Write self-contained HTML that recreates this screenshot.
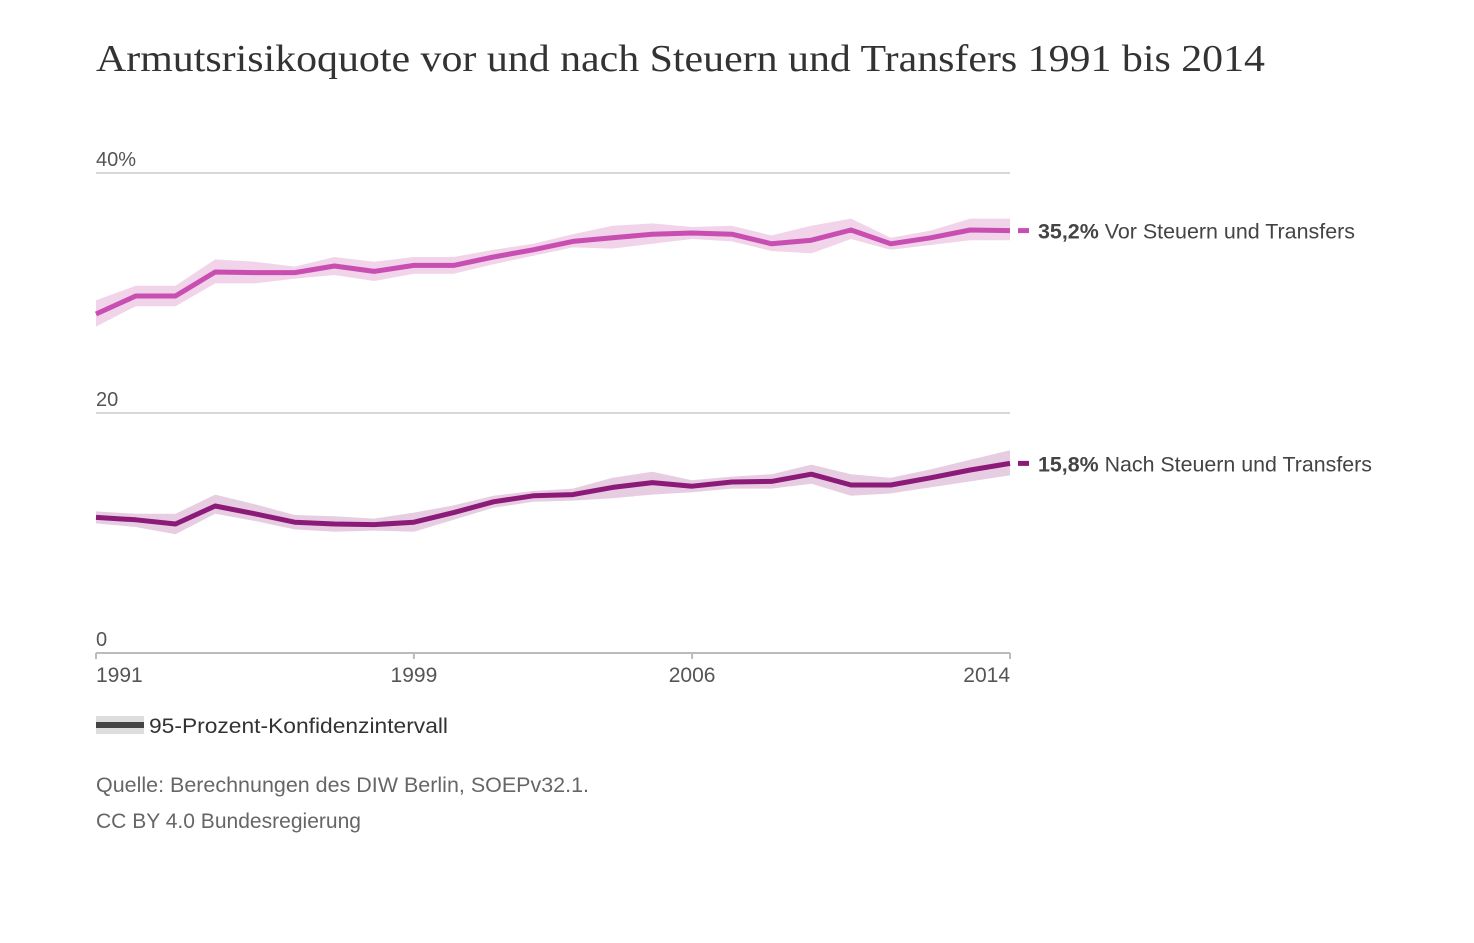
<!DOCTYPE html>
<html><head><meta charset="utf-8">
<style>
body{margin:0;background:#fff;width:1474px;height:943px;overflow:hidden;font-family:"Liberation Sans",sans-serif;}
svg{position:absolute;left:0;top:0;}
</style></head>
<body>
<svg width="1474" height="943" id="chart">
<text x="96" y="71" font-family="Liberation Serif, serif" font-size="38" fill="#333" textLength="1169" lengthAdjust="spacingAndGlyphs">Armutsrisikoquote vor und nach Steuern und Transfers 1991 bis 2014</text>
<g id="grid"></g>
<g id="bands"></g>
<g id="lines"></g>
<g id="axis"></g>
<g>
<rect x="96" y="716" width="48" height="18" fill="#ddd"/>
<rect x="96" y="722" width="48" height="6" fill="#444"/>
<text x="149" y="733" font-size="21" fill="#333" textLength="299" lengthAdjust="spacingAndGlyphs">95-Prozent-Konfidenzintervall</text>
</g>
<text x="96" y="792" font-size="21" fill="#666" textLength="493" lengthAdjust="spacingAndGlyphs">Quelle: Berechnungen des DIW Berlin, SOEPv32.1.</text>
<text x="96" y="828" font-size="21" fill="#666" textLength="265" lengthAdjust="spacingAndGlyphs">CC BY 4.0 Bundesregierung</text>
</svg>
<script>
const years=[1991,1992,1993,1994,1995,1996,1997,1998,1999,2000,2001,2002,2003,2004,2005,2006,2007,2008,2009,2010,2011,2012,2013,2014];
const vorValues=[28.25,29.75,29.75,31.75,31.7,31.7,32.25,31.8,32.3,32.3,33,33.6,34.3,34.6,34.9,35,34.9,34.1,34.4,35.25,34.1,34.6,35.25,35.2];
const vorLow=[27.2,28.9,28.9,30.8,30.8,31.2,31.5,31.0,31.6,31.6,32.4,33.1,33.8,33.7,34.1,34.5,34.3,33.5,33.3,34.5,33.6,34.0,34.4,34.4];
const vorHigh=[29.4,30.6,30.6,32.8,32.6,32.2,33.0,32.6,33.0,33.0,33.6,34.1,34.9,35.6,35.8,35.5,35.6,34.8,35.6,36.2,34.6,35.2,36.2,36.2];
const nachValues=[11.3,11.1,10.75,12.25,11.6,10.9,10.75,10.7,10.9,11.7,12.6,13.1,13.2,13.8,14.2,13.9,14.25,14.3,14.9,14.0,14.0,14.6,15.25,15.8];
const nachLow=[10.8,10.5,9.9,11.6,11.0,10.3,10.1,10.2,10.1,11.1,12.1,12.6,12.7,12.9,13.2,13.4,13.7,13.7,14.1,13.1,13.3,13.8,14.3,14.8];
const nachHigh=[11.8,11.6,11.6,13.2,12.4,11.5,11.4,11.2,11.7,12.3,13.1,13.5,13.7,14.6,15.1,14.4,14.7,14.9,15.7,14.9,14.6,15.3,16.1,16.9];
const yTicks=[0,20,40];
const yTickLabels=["0","20","40%"];
const xTicks=[1991,1999,2006,2014];
const X=y=>96+(y-1991)*(1010-96)/23;
const Y=v=>653-v*12;
const NS="http://www.w3.org/2000/svg";
function mk(t,a,p){const e=document.createElementNS(NS,t);for(const k in a)e.setAttribute(k,a[k]);p.appendChild(e);return e;}
const grid=document.getElementById('grid'),bands=document.getElementById('bands'),lines=document.getElementById('lines'),axis=document.getElementById('axis');
yTicks.forEach((v,i)=>{
 if(v>0){const l=mk('line',{x1:96,x2:1010,y1:Y(v),y2:Y(v),stroke:'#ccc','stroke-width':1.5},grid);
 
 }
 const t=mk('text',{x:96,y:Y(v)-7,'font-size':20,fill:'#555'},grid);t.textContent=yTickLabels[i];
 
 
});
const ax=mk('line',{x1:96,x2:1010,y1:653,y2:653,stroke:'#bbb','stroke-width':2},axis);


xTicks.forEach(yr=>{
 const tk=mk('line',{x1:X(yr),x2:X(yr),y1:653,y2:659,stroke:'#bbb','stroke-width':2},axis);
 
 
 const anchor=yr===1991?'start':(yr===2014?'end':'middle');
 const t=mk('text',{x:X(yr),y:682,'font-size':21,fill:'#555','text-anchor':anchor},axis);t.textContent=yr;
 
 
});
function series(vals,lo,hi,color,band,name,label,valText,len){
 let d='M'+years.map((y,i)=>X(y)+','+Y(hi[i])).join('L');
 d+='L'+years.slice().reverse().map((y,j)=>{const i=years.length-1-j;return X(y)+','+Y(lo[i]);}).join('L')+'Z';
 const b=mk('path',{d:d,fill:band},bands);
 
 
 const p=mk('polyline',{points:years.map((y,i)=>X(y)+','+Y(vals[i])).join(' '),fill:'none',stroke:color,'stroke-width':5,'stroke-linejoin':'round'},lines);
 
 
 const yy=Y(vals[vals.length-1]);
 const m=mk('rect',{x:1018,y:yy-2.5,width:11,height:5,fill:color},lines);
 
 
 const t=mk('text',{x:1038,y:yy+8,'font-size':21,fill:'#444',textLength:len,lengthAdjust:'spacingAndGlyphs'},lines);
 
 
 const tb=mk('tspan',{'font-weight':'bold'},t);tb.textContent=valText;
 const tr=mk('tspan',{},t);tr.textContent=' '+label;
}
series(vorValues,vorLow,vorHigh,'#c84eb1','#f1d3ea','vor-steuern','Vor Steuern und Transfers','35,2%',317);
series(nachValues,nachLow,nachHigh,'#8b1a78','#e7cde2','nach-steuern','Nach Steuern und Transfers','15,8%',334);
</script>
</body></html>
